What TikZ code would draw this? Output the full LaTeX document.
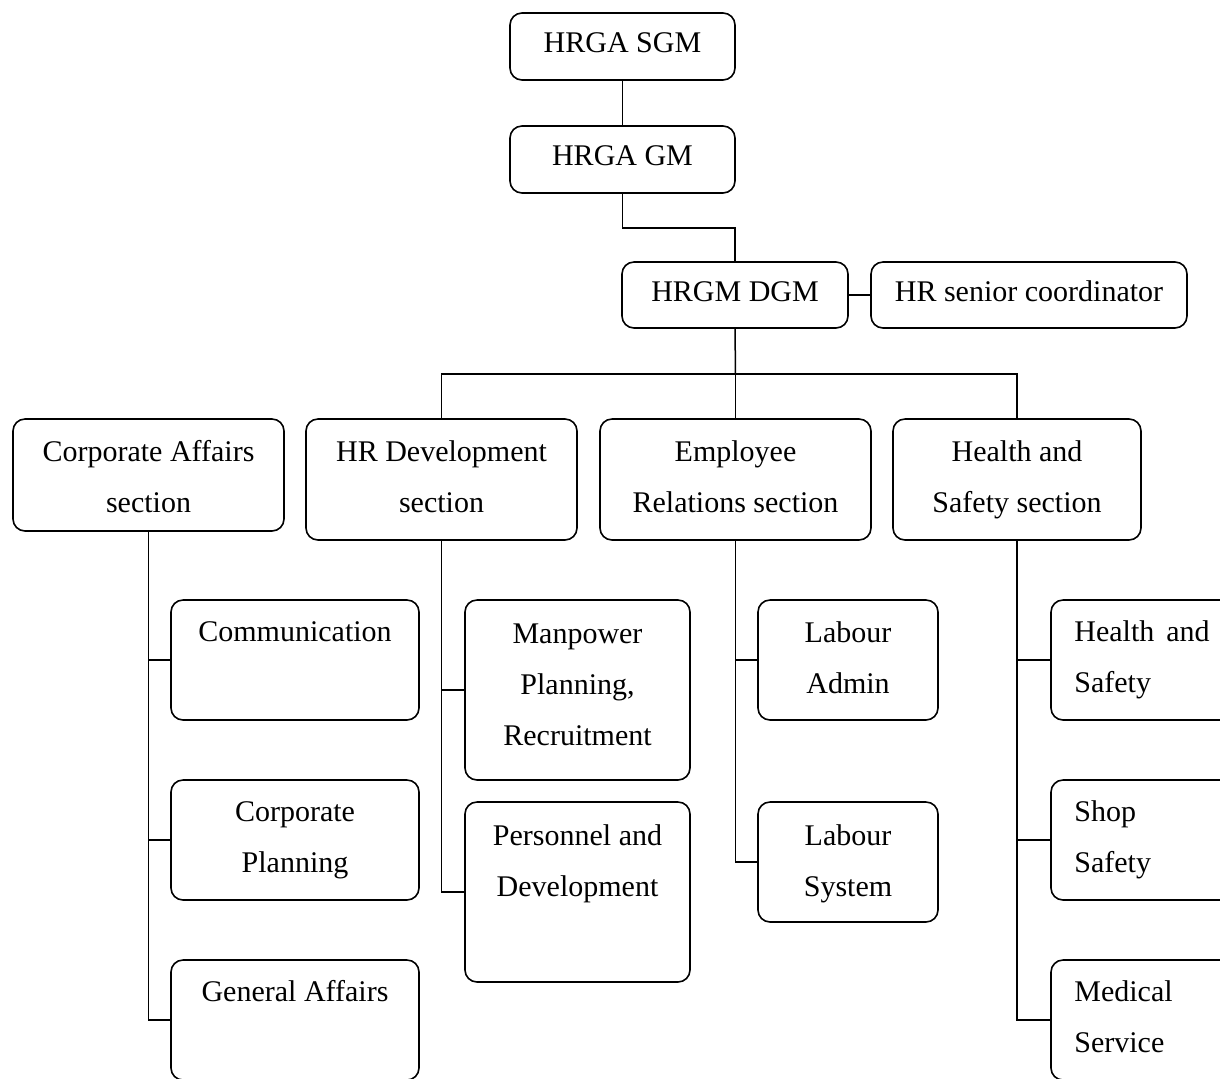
\documentclass[tikz,border=0pt]{standalone}
\usepackage{fontspec}
\setmainfont{Liberation Serif}
\newcommand{\boxtext}[1]{\begin{tabular}[t]{@{}c@{}}#1\end{tabular}}
\newcommand{\boxtextl}[1]{\begin{tabular}[t]{@{}l@{}}#1\end{tabular}}
\tikzset{
  orgbox/.style={draw, rounded corners=6pt, line width=0.8pt, inner sep=0pt},
  txt/.style={anchor=base, inner sep=0pt, font=\fontsize{15}{25.5}\selectfont},
  txtl/.style={anchor=base west, inner sep=0pt, font=\fontsize{15}{25.5}\selectfont},
  link/.style={line width=0.75pt}
}
\begin{document}
\begin{tikzpicture}[x=0.5pt,y=-0.5pt]
\useasboundingbox (0,0) rectangle (1220,1078);
\clip (0,0) rectangle (1220,1078);
% boxes
\node[orgbox, minimum width=112.5pt, minimum height=33.5pt] (sgm) at (622.5,46.5) {};
\node[orgbox, minimum width=112.5pt, minimum height=33.5pt] (gm) at (622.5,159.5) {};
\node[orgbox, minimum width=113pt, minimum height=33pt] (dgm) at (735,295) {};
\node[orgbox, minimum width=158pt, minimum height=33pt] (hrsc) at (1029,295) {};
\node[orgbox, minimum width=135.5pt, minimum height=56pt] (ca) at (148.5,475) {};
\node[orgbox, minimum width=135.5pt, minimum height=60.5pt] (hrd) at (441.5,479.5) {};
\node[orgbox, minimum width=135.5pt, minimum height=60.5pt] (er) at (735.5,479.5) {};
\node[orgbox, minimum width=124pt, minimum height=60.5pt] (hs) at (1017,479.5) {};
\node[orgbox, minimum width=124pt, minimum height=60pt] (comm) at (295,660) {};
\node[orgbox, minimum width=124pt, minimum height=60pt] (cp) at (295,840) {};
\node[orgbox, minimum width=124pt, minimum height=60pt] (ga) at (295,1020) {};
\node[orgbox, minimum width=112.5pt, minimum height=90pt] (mp) at (577.5,690) {};
\node[orgbox, minimum width=112.5pt, minimum height=90pt] (pd) at (577.5,892) {};
\node[orgbox, minimum width=90pt, minimum height=60pt] (la) at (848,660) {};
\node[orgbox, minimum width=90pt, minimum height=60pt] (ls) at (848,862) {};
\node[orgbox, minimum width=94.5pt, minimum height=60pt] (hsb) at (1145.5,660) {};
\node[orgbox, minimum width=94.5pt, minimum height=60pt] (ss) at (1145.5,840) {};
\node[orgbox, minimum width=94.5pt, minimum height=60pt] (ms) at (1145.5,1020) {};
% texts
\node[txt] (tsgm) at (622.5,52) {HRGA SGM};
\node[txt] (tgm) at (622.5,165) {HRGA GM};
\node[txt] (tdgm) at (735,301) {HRGM DGM};
\node[txt] (thrsc) at (1029,301) {HR senior coordinator};
\node[txt] (tca) at (148.5,461) {\boxtext{Corporate Affairs\\section}};
\node[txt] (thrd) at (441.5,461) {\boxtext{HR Development\\section}};
\node[txt] (ter) at (735.5,461) {\boxtext{Employee\\Relations section}};
\node[txt] (ths) at (1017,461) {\boxtext{Health and\\Safety section}};
\node[txt] (tcomm) at (295,641) {Communication};
\node[txt] (tcp) at (295,821) {\boxtext{Corporate\\Planning}};
\node[txt] (tga) at (295,1001) {General Affairs};
\node[txt] (tmp) at (577.5,643) {\boxtext{Manpower\\Planning,\\Recruitment}};
\node[txt] (tpd) at (577.5,845) {\boxtext{Personnel and\\Development}};
\node[txt] (tla) at (848,642) {\boxtext{Labour\\Admin}};
\node[txt] (tls) at (848,845) {\boxtext{Labour\\System}};
\node[txtl] (thsb) at (1074,641) {\boxtextl{Health\hspace{6pt}and\\Safety}};
\node[txtl] (tss) at (1074,821) {\boxtextl{Shop\\Safety}};
\node[txtl] (tms) at (1074,1001) {\boxtextl{Medical\\Service}};
% connectors
\coordinate (j1) at (622.5,228);
\coordinate (bus) at (735.5,374);
\draw[link] (sgm) -- (gm);
\draw[link] (gm.south) -- (j1) -| (dgm.north);
\draw[link] (dgm) -- (hrsc);
\draw[link] (dgm.south) -- (bus);
\draw[link] (hrd.north) |- (bus) -| (hs.north);
\draw[link] (bus) -- (er.north);
\draw[link] (ca.south) |- (comm.west);
\draw[link] (ca.south) |- (cp.west);
\draw[link] (ca.south) |- (ga.west);
\draw[link] (hrd.south) |- (mp.west);
\draw[link] (hrd.south) |- (pd.west);
\draw[link] (er.south) |- (la.west);
\draw[link] (er.south) |- (ls.west);
\draw[link] (hs.south) |- (hsb.west);
\draw[link] (hs.south) |- (ss.west);
\draw[link] (hs.south) |- (ms.west);
\end{tikzpicture}
\end{document}
